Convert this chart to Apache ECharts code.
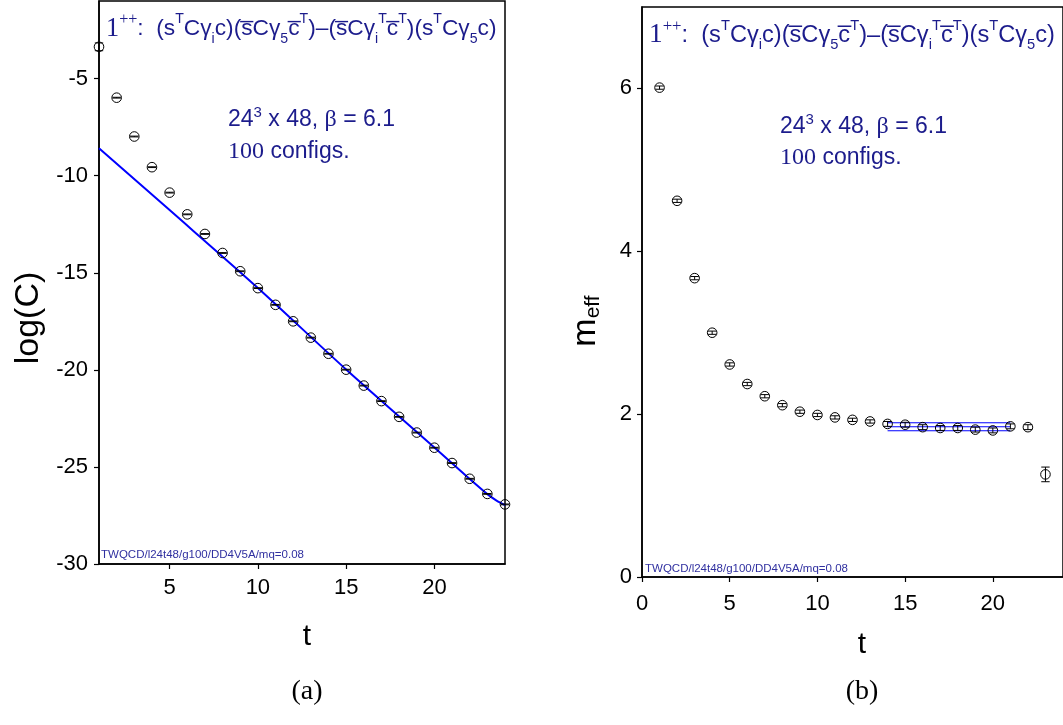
<!DOCTYPE html>
<html>
<head>
<meta charset="utf-8">
<script src="https://cdn.jsdelivr.net/npm/echarts@6/dist/echarts.min.js"></script>
<style>
html,body{margin:0;padding:0;background:#fff;}
#c{width:1063px;height:725px;}
</style>
</head>
<body>
<div id="c"></div>
<script>
// ---------- data ----------
const tA = [1,2,3,4,5,6,7,8,9,10,11,12,13,14,15,16,17,18,19,20,21,22,23,24];
const logC = [-3.36,-5.98,-7.98,-9.56,-10.87,-11.99,-13.0,-13.98,-14.92,-15.79,-16.65,-17.5,-18.34,-19.17,-19.99,-20.81,-21.61,-22.42,-23.23,-24.01,-24.8,-25.61,-26.39,-26.93];
const logCErr = [0.2,0.02,0.02,0.02,0.02,0.02,0.02,0.02,0.02,0.02,0.02,0.02,0.02,0.02,0.02,0.02,0.02,0.02,0.02,0.02,0.02,0.02,0.02,0.02];
const fitT = [1,5,10,15,20,22,23,23.5,24];
const fitLogC = [-8.58,-11.77,-15.78,-19.98,-24.0,-25.62,-26.4,-26.72,-26.97];

const tB = [1,2,3,4,5,6,7,8,9,10,11,12,13,14,15,16,17,18,19,20,21,22,23];
const meff = [6.01,4.62,3.67,3.0,2.61,2.37,2.22,2.11,2.03,1.99,1.96,1.93,1.91,1.88,1.87,1.84,1.83,1.83,1.81,1.80,1.85,1.84,1.26];
const meffErr = [0.02,0.02,0.02,0.02,0.02,0.02,0.02,0.02,0.02,0.02,0.02,0.02,0.02,0.03,0.03,0.03,0.03,0.03,0.03,0.03,0.03,0.03,0.09];
const fitRange = [14, 21];
const fitMass = [1.894, 1.845, 1.796]; // upper, central, lower

const xTicksA = [5,10,15,20];
const yTicksA = [-30,-25,-20,-15,-10,-5];
const xTicksB = [0,5,10,15,20];
const yTicksB = [0,2,4,6];

// ---------- styling ----------
const NAVY = '#1c1c8c';
const SANS = 'Liberation Sans, Arial, DejaVu Sans, sans-serif';
const SERIF = 'Liberation Serif, Times New Roman, DejaVu Serif, serif';

function errRender(params, api) {
  const x = api.value(0), y = api.value(1), e = api.value(2);
  const c = api.coord([x, y]);
  const hi = api.coord([x, y + e]);
  const lo = api.coord([x, y - e]);
  const r = 4.8, w = 4.2;
  const st = {stroke:'#000', lineWidth:1, fill:null};
  return {type:'group', children:[
    {type:'circle', shape:{cx:c[0], cy:c[1], r:r}, style:{stroke:'#000', lineWidth:1, fill:'rgba(0,0,0,0)'}},
    {type:'line', shape:{x1:c[0], y1:hi[1], x2:c[0], y2:lo[1]}, style:st},
    {type:'line', shape:{x1:c[0]-w, y1:hi[1], x2:c[0]+w, y2:hi[1]}, style:st},
    {type:'line', shape:{x1:c[0]-w, y1:lo[1], x2:c[0]+w, y2:lo[1]}, style:st}
  ]};
}

const dataA = tA.map((t,i)=>[t, logC[i], logCErr[i]]);
const dataB = tB.map((t,i)=>[t, meff[i], meffErr[i]]);
const fitA = fitT.map((t,i)=>[t, fitLogC[i]]);

function titleRich(k) {
  return {
    n:{fontFamily:SERIF, fontSize:26*k, fill:NAVY, lineHeight:34},
    ns:{fontFamily:SERIF, fontSize:16*k, fill:NAVY, verticalAlign:'top', lineHeight:16},
    t:{fontFamily:SANS, fontSize:22.5*k, fill:NAVY, lineHeight:34},
    sp:{fontFamily:SANS, fontSize:14*k, fill:NAVY, verticalAlign:'top', lineHeight:18},
    sb:{fontFamily:SANS, fontSize:14*k, fill:NAVY, verticalAlign:'bottom', lineHeight:15}
  };
}
const titleText = '{n|1}{ns|++}{t|:  (s}{sp|T}{t|C\u03b3}{sb|i}{t|c)(s\u0305C\u03b3}{sb|5}{t|c\u0305}{sp|T}{t|)\u2013(s\u0305C\u03b3}{sb|i}{sp|T}{t|c\u0305}{sp|T}{t|)(s}{sp|T}{t|C\u03b3}{sb|5}{t|c)}';

const annRich = {
  a:{fontFamily:SANS, fontSize:23, fill:NAVY, lineHeight:30},
  c:{fontFamily:SERIF, fontSize:24, fill:NAVY, lineHeight:30},
  s:{fontFamily:SANS, fontSize:15, fill:NAVY, verticalAlign:'top', lineHeight:15},
  b:{fontFamily:SERIF, fontSize:24, fill:NAVY, lineHeight:30}
};
const ann1 = '{a|24}{s|3}{a| x 48, }{b|\u03b2}{a| = 6.1}';
const ann2 = '{c|100}{a| configs.}';
const tag = 'TWQCD/l24t48/g100/DD4V5A/mq=0.08';

function txt(x, y, text, rich, extra) {
  return {type:'text', x:x, y:y, z:100, style:Object.assign({text:text, rich:rich, verticalAlign:'middle', align:'left'}, extra||{})};
}

const axisCommon = {
  axisLine:{show:true, onZero:false, lineStyle:{color:'#000', width:1.5}},
  axisTick:{show:true, inside:false, length:5, lineStyle:{color:'#000', width:1.2}},
  splitLine:{show:false},
  axisLabel:{color:'#000', fontSize:22, fontFamily:SANS}
};
function ax(o){ return Object.assign({}, JSON.parse(JSON.stringify(axisCommon)), o, {
  axisLabel:Object.assign({}, axisCommon.axisLabel, o.axisLabel||{}),
  axisTick:Object.assign({}, axisCommon.axisTick, o.axisTick||{})
}); }

const option = {
  backgroundColor:'#fff',
  animation:false,
  grid:[
    {left:99, top:1, width:406, height:563, show:true, borderColor:'#000', borderWidth:1.5, backgroundColor:'rgba(0,0,0,0)'},
    {left:642, top:7, width:425, height:570, show:true, borderColor:'#000', borderWidth:1.5, backgroundColor:'rgba(0,0,0,0)'}
  ],
  xAxis:[
    ax({type:'value', gridIndex:0, min:1, max:24,
        axisTick:{customValues:xTicksA}, axisLabel:{customValues:xTicksA, margin:13}}),
    ax({type:'value', gridIndex:1, min:0, max:24,
        axisTick:{customValues:xTicksB}, axisLabel:{customValues:xTicksB, margin:16}})
  ],
  yAxis:[
    ax({type:'value', gridIndex:0, min:-30, max:-1,
        axisTick:{customValues:yTicksA}, axisLabel:{customValues:yTicksA, margin:11}}),
    ax({type:'value', gridIndex:1, min:0, max:7,
        axisTick:{customValues:yTicksB}, axisLabel:{customValues:yTicksB, margin:10}})
  ],
  series:[
    {type:'line', xAxisIndex:0, yAxisIndex:0, data:fitA, smooth:0.3, showSymbol:false,
     lineStyle:{color:'#0000ff', width:2}, z:2},
    {type:'custom', xAxisIndex:0, yAxisIndex:0, data:dataA, renderItem:errRender, encode:{x:0,y:1}, z:5, clip:false},
    {type:'line', xAxisIndex:1, yAxisIndex:1, data:fitRange.map(t=>[t, fitMass[0]]), showSymbol:false, lineStyle:{color:'#0000ff', width:1}},
    {type:'line', xAxisIndex:1, yAxisIndex:1, data:fitRange.map(t=>[t, fitMass[1]]), showSymbol:false, lineStyle:{color:'#0000ff', width:1}},
    {type:'line', xAxisIndex:1, yAxisIndex:1, data:fitRange.map(t=>[t, fitMass[2]]), showSymbol:false, lineStyle:{color:'#0000ff', width:1}},
    {type:'custom', xAxisIndex:1, yAxisIndex:1, data:dataB, renderItem:errRender, encode:{x:0,y:1}, z:5, clip:false}
  ],
  graphic:[
    txt(106, 29, titleText, titleRich(1.01)),
    txt(649, 35, titleText, titleRich(1.05)),
    txt(228, 120, ann1, annRich),
    txt(228, 152, ann2, annRich),
    txt(780, 127, ann1, annRich),
    txt(780, 158, ann2, annRich),
    txt(101, 555, tag, null, {fontFamily:SANS, fontSize:11.5, fill:'#3030a0'}),
    txt(645, 569, tag, null, {fontFamily:SANS, fontSize:11.5, fill:'#3030a0'}),
    // axis titles
    {type:'text', x:29, y:318, rotation:Math.PI/2, style:{text:'log(C)', fontFamily:SANS, fontSize:34, fill:'#000', align:'center', verticalAlign:'middle'}},
    {type:'text', x:586, y:321, rotation:Math.PI/2, style:{text:'m{s|eff}', fontFamily:SANS, fontSize:34, fill:'#000', align:'center', verticalAlign:'middle',
      rich:{s:{fontFamily:SANS, fontSize:21, fill:'#000', verticalAlign:'bottom', lineHeight:36}}}},
    {type:'text', x:307, y:637, style:{text:'t', fontFamily:SANS, fontSize:30, fill:'#000', align:'center', verticalAlign:'middle'}},
    {type:'text', x:862, y:645, style:{text:'t', fontFamily:SANS, fontSize:30, fill:'#000', align:'center', verticalAlign:'middle'}},
    {type:'text', x:307, y:692, style:{text:'(a)', fontFamily:SERIF, fontSize:28, fill:'#000', align:'center', verticalAlign:'middle'}},
    {type:'text', x:862, y:692, style:{text:'(b)', fontFamily:SERIF, fontSize:28, fill:'#000', align:'center', verticalAlign:'middle'}}
  ]
};

const chart = echarts.init(document.getElementById('c'), null, {renderer:'canvas'});
chart.setOption(option);
</script>
</body>
</html>
